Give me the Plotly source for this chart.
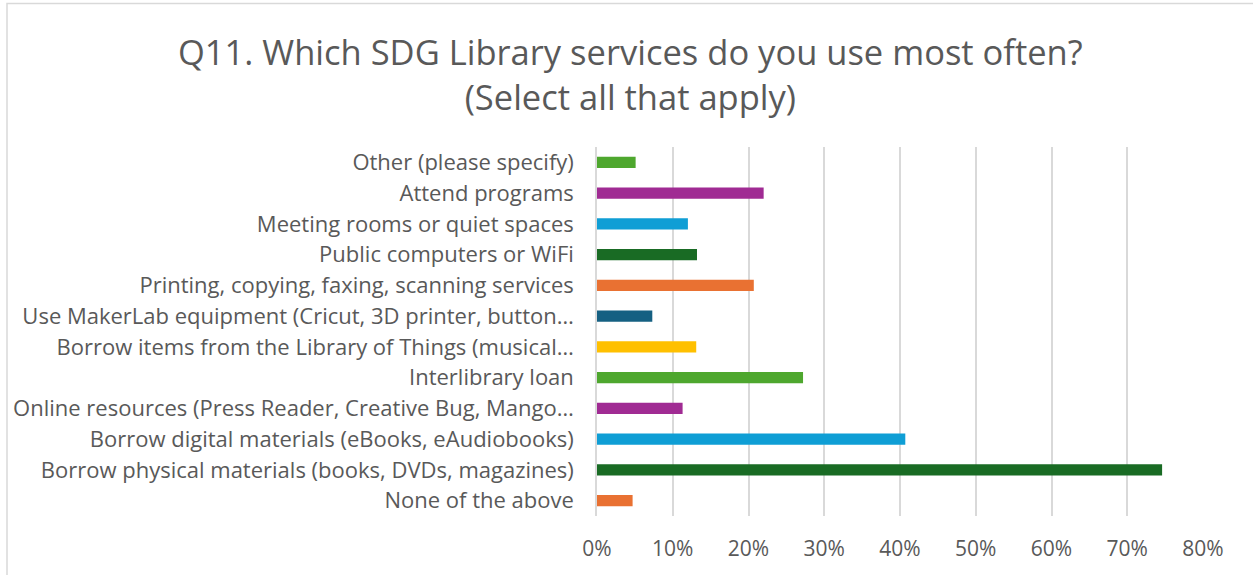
import plotly.graph_objects as go

# Survey answers, listed bottom-to-top as they appear on the axis
services = [
    "None of the above",
    "Borrow physical materials (books, DVDs, magazines)",
    "Borrow digital materials (eBooks, eAudiobooks)",
    "Online resources (Press Reader, Creative Bug, Mango…",
    "Interlibrary loan",
    "Borrow items from the Library of Things (musical…",
    "Use MakerLab equipment (Cricut, 3D printer, button…",
    "Printing, copying, faxing, scanning services",
    "Public computers or WiFi",
    "Meeting rooms or quiet spaces",
    "Attend programs",
    "Other (please specify)",
]
share = [0.047, 0.746, 0.407, 0.113, 0.272, 0.131, 0.073, 0.207, 0.132, 0.120, 0.220, 0.051]
bar_colors = [
    "#E97132", "#196B24", "#0F9ED5", "#A02B93", "#4EA72E", "#FFC000",
    "#156082", "#E97132", "#196B24", "#0F9ED5", "#A02B93", "#4EA72E",
]
x_ticks = [0, 0.1, 0.2, 0.3, 0.4, 0.5, 0.6, 0.7, 0.8]

W, H = 1253, 575
PL, PR, PT, PB = 597, 1203, 147, 516   # plot area edges in pixels
FONT = "Open Sans"
GREY = "#595959"

pw, ph = PR - PL, PB - PT

fig = go.Figure(
    go.Bar(
        x=share,
        y=services,
        orientation="h",
        marker=dict(color=bar_colors, line=dict(width=0)),
        width=0.36,
        hoverinfo="x+y",
    )
)

fig.update_layout(
    width=W,
    height=H,
    margin=dict(l=PL, r=W - PR, t=PT, b=H - PB),
    paper_bgcolor="white",
    plot_bgcolor="white",
    showlegend=False,
    font=dict(family=FONT, color=GREY, size=21),
    xaxis=dict(
        range=[0, 0.8],
        tickvals=x_ticks,
        tickformat=".0%",
        showgrid=True,
        gridcolor="#D9D9D9",
        gridwidth=1.5,
        zeroline=False,
        showline=False,
        ticks="",
        ticklabelstandoff=18,
        tickfont=dict(size=21, color=GREY, family=FONT),
        fixedrange=True,
    ),
    yaxis=dict(
        categoryorder="array",
        categoryarray=services,
        showgrid=False,
        zeroline=False,
        showline=True,
        linecolor="#D9D9D9",
        linewidth=1.5,
        ticks="",
        ticklabelstandoff=17,
        tickfont=dict(size=22, color=GREY, family=FONT),
        fixedrange=True,
    ),
    annotations=[
        dict(
            text="Q11. Which SDG Library services do you use most often?<br>(Select all that apply)",
            xref="paper", yref="paper",
            x=(630 - PL) / pw,
            y=1 + (PT - 26) / ph,
            xanchor="center", yanchor="top",
            showarrow=False,
            font=dict(size=34.5, color=GREY, family=FONT),
            align="center",
        )
    ],
    shapes=[
        dict(
            type="rect", xref="paper", yref="paper",
            x0=-(PL - 7) / pw, x1=1 + (W + 5 - PR) / pw,
            y0=-(H + 5 - PB) / ph, y1=1 + (PT - 3.5) / ph,
            line=dict(color="#D9D9D9", width=1.5),
            fillcolor="rgba(0,0,0,0)",
            layer="below",
        )
    ],
)

fig.write_html("out.html")
